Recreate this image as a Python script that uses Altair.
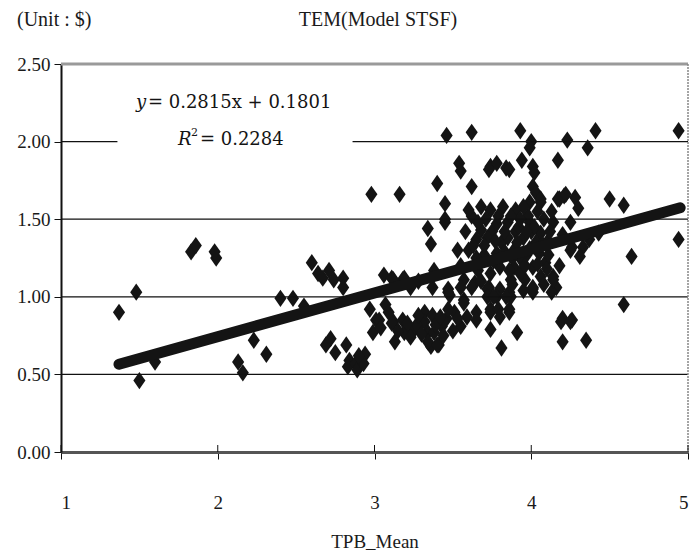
import altair as alt
import pandas as pd

# ---- data ----
x_vals = [
    1.37, 1.48, 1.50, 1.60, 1.83, 1.86, 1.99, 1.98, 2.13, 2.16, 2.23, 2.31, 2.40, 2.48, 2.55,
    2.60, 2.64, 2.67, 2.71, 2.74, 2.80, 2.80, 2.69, 2.72, 2.75, 2.82, 2.84, 2.83, 2.88, 2.89,
    2.94, 2.93, 2.90,
    3.46, 3.62, 3.93, 4.00, 3.99, 4.23, 4.36, 4.41, 4.94,
    3.54, 3.55, 3.74, 3.78, 3.84, 3.94, 4.01, 4.17, 3.73, 3.86, 4.02,
    3.62, 3.40, 2.98, 3.16, 3.45, 4.01, 4.03,
    3.45, 3.34, 3.36, 3.53, 3.45,
    3.68, 3.74, 3.82, 3.90, 3.99, 4.06, 4.06, 4.17, 4.21, 4.28, 4.30, 4.50, 4.59, 4.18, 4.22,
    4.64, 4.94, 4.59, 4.20, 4.26, 4.20, 4.35, 4.19, 4.25,
    4.25, 4.26, 4.33, 4.37, 4.43, 4.31, 4.25,
    3.68, 3.65, 3.75, 3.81, 3.90, 3.99, 4.06, 4.14,
    3.70, 3.78, 3.89, 3.97, 4.01, 4.09, 4.14, 4.16, 4.06, 3.96, 3.89, 3.80, 3.74, 3.66, 3.64,
    3.57, 3.38, 3.73, 3.80, 3.87, 3.87, 4.01, 4.13, 3.93, 4.14,
    3.92, 3.95, 4.03, 4.05, 3.98, 4.08, 3.93, 4.10, 4.12, 3.85, 3.78, 3.71, 3.62, 3.58, 3.60,
    3.85, 4.00, 4.04, 3.95, 3.88, 4.18, 4.20, 3.72, 3.65, 3.55,
    3.06, 3.11, 3.18, 3.23, 3.37, 3.47, 3.19, 3.12, 3.47,
    3.07, 2.97, 3.01, 2.99, 3.12, 3.13, 3.18, 3.24, 3.32, 3.34, 3.36, 3.41, 3.43, 3.51, 3.55,
    3.57, 3.62, 3.65, 3.72, 3.74, 3.74, 3.78, 3.86, 3.86, 4.01,
    3.11, 3.19, 3.23, 3.32, 3.34, 3.40, 3.38, 3.46, 3.48, 3.57, 3.59, 3.65, 3.55, 3.74, 3.79,
    3.80, 3.86, 3.91, 3.81, 3.72, 3.84, 4.01, 3.03, 3.28, 3.30,
    3.63, 3.67, 3.70, 3.76, 3.77, 3.83, 3.83, 3.86, 3.91, 3.93, 3.96, 3.99, 4.02, 4.04, 4.07,
    4.10, 4.11, 4.13, 3.97, 3.88, 3.68, 3.76, 3.95, 4.08,
    3.27, 3.30, 3.37, 3.39, 3.44, 3.47, 3.50, 3.53, 3.28, 3.42,
    3.04, 3.09, 3.15, 3.21, 3.60, 3.66, 3.79, 3.87,
]
y_vals = [
    0.90, 1.03, 0.46, 0.58, 1.29, 1.33, 1.25, 1.29, 0.58, 0.51, 0.72, 0.63, 0.99, 0.99, 0.94,
    1.22, 1.15, 1.12, 1.17, 1.11, 1.12, 1.06, 0.69, 0.73, 0.64, 0.69, 0.59, 0.55, 0.57, 0.53,
    0.63, 0.57, 0.62,
    2.04, 2.06, 2.07, 2.00, 1.96, 2.01, 1.96, 2.07, 2.07,
    1.86, 1.81, 1.84, 1.86, 1.83, 1.88, 1.84, 1.88, 1.82, 1.82, 1.80,
    1.71, 1.73, 1.66, 1.66, 1.60, 1.71, 1.67,
    1.48, 1.44, 1.34, 1.30, 1.50,
    1.58, 1.56, 1.58, 1.56, 1.61, 1.61, 1.63, 1.63, 1.65, 1.64, 1.57, 1.63, 1.59, 1.63, 1.66,
    1.26, 1.37, 0.95, 0.86, 0.85, 0.71, 0.72, 0.84, 0.84,
    1.48, 1.32, 1.32, 1.37, 1.41, 1.26, 1.30,
    1.43, 1.37, 1.42, 1.35, 1.42, 1.48, 1.41, 1.48,
    1.27, 1.28, 1.30, 1.27, 1.19, 1.22, 1.13, 1.06, 1.13, 1.11, 1.19, 1.19, 1.15, 1.17, 1.09,
    1.11, 1.17, 1.06, 1.05, 1.11, 1.00, 1.05, 1.03, 1.15, 1.11,
    1.45, 1.38, 1.35, 1.28, 1.52, 1.50, 1.25, 1.35, 1.42, 1.48, 1.47, 1.50, 1.52, 1.42, 1.30,
    1.38, 1.42, 1.55, 1.58, 1.25, 1.20, 1.40, 1.38, 1.25, 1.20,
    1.14, 1.12, 1.11, 1.06, 1.06, 1.03, 1.12, 1.11, 1.05,
    0.95, 0.92, 0.85, 0.77, 0.84, 0.71, 0.85, 0.77, 0.90, 0.77, 0.68, 0.69, 0.81, 0.90, 0.81,
    0.98, 1.06, 0.90, 1.05, 0.79, 0.90, 1.00, 0.90, 1.03, 1.03,
    0.83, 0.77, 0.74, 0.84, 0.71, 0.69, 0.77, 0.86, 1.01, 0.96, 0.87, 0.85, 1.06, 0.92, 0.92,
    0.87, 0.92, 0.77, 0.67, 1.00, 1.00, 1.06, 0.85, 1.10, 0.83,
    1.33, 1.22, 1.33, 1.23, 1.36, 1.29, 1.42, 1.17, 1.35, 1.50, 1.20, 1.31, 1.45, 1.21, 1.34,
    1.18, 1.27, 1.55, 1.42, 1.08, 1.10, 1.00, 1.04, 1.08,
    0.82, 0.76, 0.88, 0.82, 0.75, 0.92, 0.78, 0.86, 0.88, 0.87,
    0.80, 0.90, 0.78, 0.83, 1.56, 1.48, 1.52, 1.52,
]

slope = 0.2815
intercept = 0.1801
line_x = [1.37, 4.95]
grid_y = [0.5, 1.0, 1.5, 2.0]
x_ticks = [1, 2, 3, 4, 5]
y_ticks = [0.0, 0.5, 1.0, 1.5, 2.0, 2.5]

W, H = 627, 388
FONT = "Liberation Serif"
EQ_FONT = "DejaVu Serif"

xs = alt.Scale(domain=[1, 5], nice=False, zero=False)
ys = alt.Scale(domain=[0, 2.5], nice=False, zero=True)

X_AX = alt.Axis(values=x_ticks, format="d", title="TPB_Mean", grid=False,
                tickSize=7, labelPadding=34, titlePadding=20)
Y_AX = alt.Axis(values=y_ticks, format=".2f", title=None, grid=False,
                tickSize=7, labelPadding=4)


def X(f):
    return alt.X(f, scale=xs, axis=X_AX)


def Y(f):
    return alt.Y(f, scale=ys, axis=Y_AX)


pts = pd.DataFrame({"x": x_vals, "y": y_vals})
reg = pd.DataFrame({"x": line_x, "y": [slope * v + intercept for v in line_x]})
grid = pd.DataFrame({"y": grid_y})
ticks = pd.DataFrame({"x": x_ticks})

diamond = "M0,-1L0.7,0L0,1L-0.7,0Z"

points = alt.Chart(pts).mark_point(
    shape=diamond, filled=True, color="#141414", size=300, opacity=1
).encode(x=X("x:Q"), y=Y("y:Q"))

gridlines = alt.Chart(grid).mark_rule(color="#111", strokeWidth=1.2).encode(
    y=Y("y:Q"), x=alt.value(0), x2=alt.value(W),
)

eqbox = alt.Chart(pd.DataFrame({"x": [1.36], "x2": [2.86], "y": [1.90], "y2": [2.10]})).mark_rect(
    color="white"
).encode(x=X("x:Q"), x2="x2:Q", y=Y("y:Q"), y2="y2:Q")

top_border = alt.Chart(pd.DataFrame({"y": [2.5]})).mark_rule(color="#9a9a9a", strokeWidth=3).encode(
    y=Y("y:Q"), x=alt.value(0), x2=alt.value(W),
)
right_border = alt.Chart(pd.DataFrame({"x": [5]})).mark_rule(
    color="#888", strokeWidth=1.5, strokeDash=[2, 1]
).encode(x=X("x:Q"), y=alt.value(0), y2=alt.value(H))

regline = alt.Chart(reg).mark_line(color="#141414", strokeWidth=11, strokeCap="round").encode(
    x=X("x:Q"), y=Y("y:Q"),
)

xtick_up = alt.Chart(ticks).mark_rule(color="#111", strokeWidth=1).encode(
    x=X("x:Q"), y=alt.value(H - 7), y2=alt.value(H),
)


def txt(xv, yv, s, font=EQ_FONT, size=18, style="normal", dx=0, dy=0, align="left"):
    return alt.Chart(pd.DataFrame({"x": [xv], "y": [yv], "t": [s]})).mark_text(
        font=font, fontSize=size, fontStyle=style, align=align, baseline="middle",
        dx=dx, dy=dy, color="#141414",
    ).encode(x=X("x:Q"), y=Y("y:Q"), text="t:N")


eq1_y = txt(1.478, 2.25, "y", style="italic")
eq1_rest = txt(1.478, 2.25, "= 0.2815x + 0.1801", dx=12)
eq2_R = txt(1.746, 2.01, "R", style="italic")
eq2_sup = txt(1.746, 2.01, "2", size=11, dx=13, dy=-7)
eq2_rest = txt(1.746, 2.01, "= 0.2284", dx=22)

title = alt.Chart(pd.DataFrame({"t": ["TEM(Model STSF)"]})).mark_text(
    font=FONT, fontSize=20, align="center", baseline="middle", color="#1a1a1a"
).encode(x=alt.value(317), y=alt.value(-44), text="t:N")
unit = alt.Chart(pd.DataFrame({"t": ["(Unit  :  $)"]})).mark_text(
    font=FONT, fontSize=20, align="left", baseline="middle", color="#1a1a1a"
).encode(x=alt.value(-44), y=alt.value(-44), text="t:N")

chart = alt.layer(
    points, gridlines, eqbox, top_border, right_border, regline, xtick_up,
    eq1_y, eq1_rest, eq2_R, eq2_sup, eq2_rest, title, unit,
).properties(
    width=W, height=H,
    autosize=alt.AutoSizeParams(type="none"),
    padding={"left": 53, "top": 56, "right": 2, "bottom": 100},
).configure_view(stroke=None).configure_axis(
    labelFont=FONT, labelFontSize=19, labelColor="#1a1a1a",
    titleFont=FONT, titleFontSize=19, titleColor="#1a1a1a", titleFontWeight="normal",
    tickColor="#111", tickWidth=1,
).configure_axisY(
    domainColor="#111", domainWidth=2,
).configure_axisX(
    domainColor="#555", domainWidth=3,
)

chart.save("out.html", embed_options={"renderer": "svg", "actions": False})
